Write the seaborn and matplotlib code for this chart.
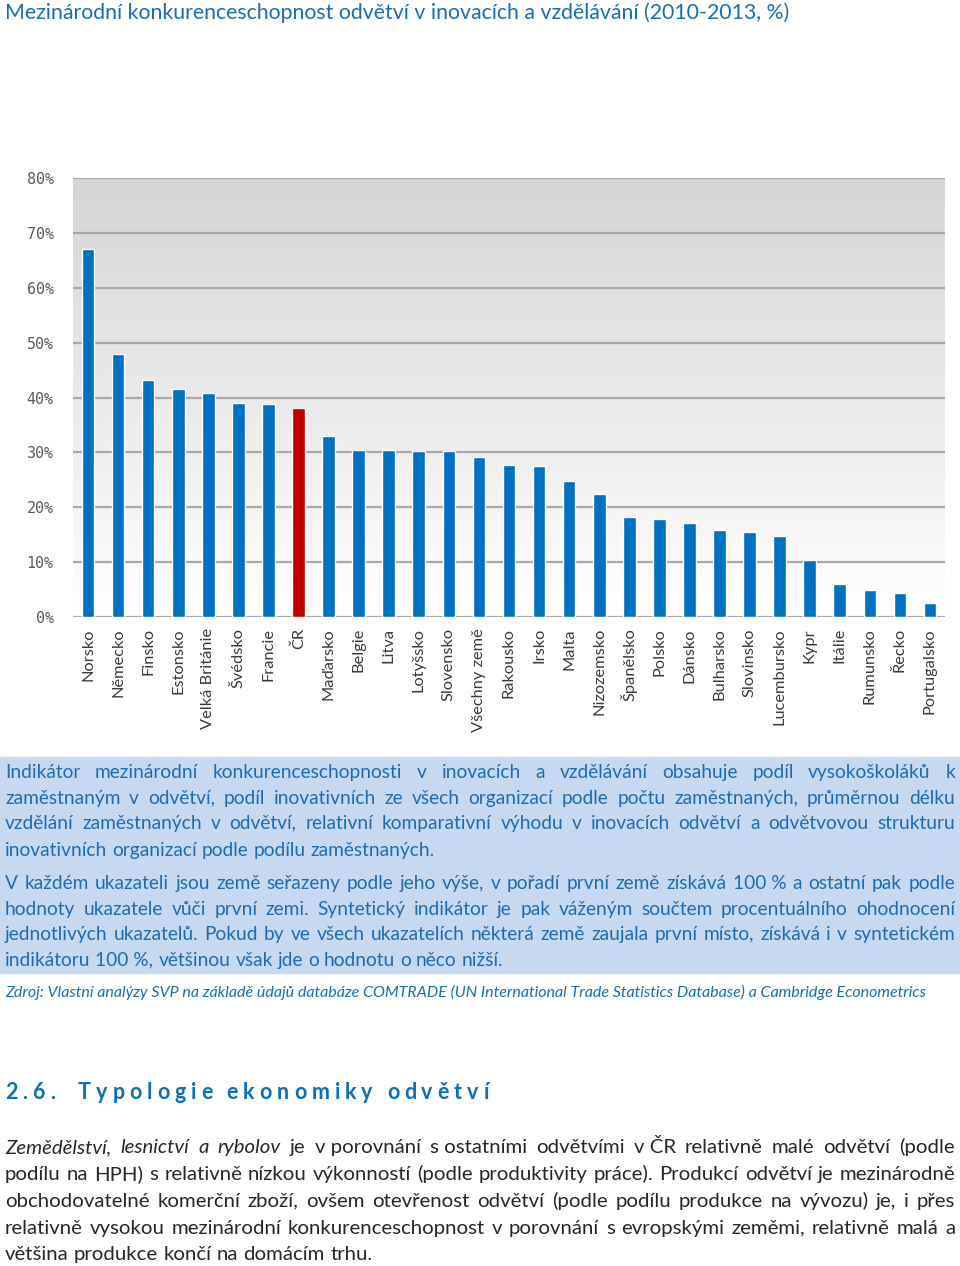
import matplotlib
matplotlib.use('Agg')
import matplotlib.pyplot as plt
import seaborn as sns
import numpy as np
import pandas as pd
from matplotlib.colors import LinearSegmentedColormap
from matplotlib.patches import Rectangle
from matplotlib.ticker import PercentFormatter

# data (%)
zeme = ['Norsko', 'Německo', 'Finsko', 'Estonsko', 'Velká Británie', 'Švédsko',
        'Francie', 'ČR', 'Maďarsko', 'Belgie', 'Litva', 'Lotyšsko', 'Slovensko',
        'Všechny země', 'Rakousko', 'Irsko', 'Malta', 'Nizozemsko', 'Španělsko',
        'Polsko', 'Dánsko', 'Bulharsko', 'Slovinsko', 'Lucembursko', 'Kypr',
        'Itálie', 'Rumunsko', 'Řecko', 'Portugalsko']
hodnoty = [67.0, 48.0, 43.2, 41.6, 40.9, 39.0, 38.9, 38.1, 33.0, 30.4, 30.4,
           30.2, 30.2, 29.1, 27.7, 27.5, 24.8, 22.5, 18.2, 17.8, 17.1, 15.8,
           15.4, 14.7, 10.4, 6.1, 5.0, 4.4, 2.6]
zvyraznit = 'ČR'
y_ticky = [0, 10, 20, 30, 40, 50, 60, 70, 80]

nadpis = 'Mezinárodní konkurenceschopnost odvětví v inovacích a vzdělávání (2010-2013, %)'
box_odstavce = [
    ['Indikátor mezinárodní konkurenceschopnosti v inovacích a vzdělávání obsahuje podíl vysokoškoláků k',
     'zaměstnaným v odvětví, podíl inovativních ze všech organizací podle počtu zaměstnaných, průměrnou délku',
     'vzdělání zaměstnaných v odvětví, relativní komparativní výhodu v inovacích odvětví a odvětvovou strukturu',
     'inovativních organizací podle podílu zaměstnaných.'],
    ['V každém ukazateli jsou země seřazeny podle jeho výše, v pořadí první země získává 100\u00a0% a ostatní pak podle',
     'hodnoty ukazatele vůči první zemi. Syntetický indikátor je pak váženým součtem procentuálního ohodnocení',
     'jednotlivých ukazatelů. Pokud by ve všech ukazatelích některá země zaujala první místo, získává i v syntetickém',
     'indikátoru 100\u00a0%, většinou však jde o hodnotu o něco nižší.'],
]
zdroj = ('Zdroj: Vlastní analýzy SVP na základě údajů databáze COMTRADE '
         '(UN International Trade Statistics Database) a Cambridge Econometrics')
kapitola = '2.6.  Typologie ekonomiky odvětví'
telo = ['Zemědělství, lesnictví a rybolov je v\u00a0porovnání s\u00a0ostatními odvětvími v\u00a0ČR relativně malé odvětví (podle',
        'podílu na HPH) s relativně nízkou výkonností (podle produktivity práce). Produkcí odvětví je mezinárodně',
        'obchodovatelné komerční zboží, ovšem otevřenost odvětví (podle podílu produkce na vývozu) je, i přes',
        'relativně vysokou mezinárodní konkurenceschopnost v porovnání s evropskými zeměmi, relativně malá a',
        'většina produkce končí na domácím trhu.']
telo_kurziva = 4  # prvni 4 slova kurzivou

sns.set_style('white')
plt.rcParams['font.family'] = ['Lato', 'DejaVu Sans']

MODRA = '#0070c0'
CERVENA = '#c00000'
TEXT_MODRA = '#1a6cb5'
W, H = 960, 1266


def fy(py):
    return 1 - py / H


def zarovnej(fig, slova, y, x0, x1, velikost, barva, posledni=False, styly=None):
    # rozmisti slova na radku do bloku (do sirky x0..x1 v px), y = stred radku
    r = fig.canvas.get_renderer()
    zaklad = y + 0.3 * velikost * 100 / 72
    texty = []
    for i, s in enumerate(slova):
        styl = styly[i] if styly else 'normal'
        texty.append(fig.text(0, fy(zaklad), s, fontsize=velikost, color=barva,
                              style=styl, va='baseline', ha='left'))
    sirky = [t.get_window_extent(r).width for t in texty]
    mezera = 0.26 * velikost * 100 / 72
    if posledni or len(texty) == 1:
        gap = mezera
    else:
        gap = max((x1 - x0 - sum(sirky)) / (len(texty) - 1), 2)
    x = x0
    for t, w in zip(texty, sirky):
        t.set_x(x / W)
        x += w + gap


fig = plt.figure(figsize=(9.6, 12.66), dpi=100)

ax = fig.add_axes([73 / W, fy(617), (945 - 73) / W, (617 - 178) / H])
df = pd.DataFrame({'zeme': zeme, 'hodnota': hodnoty})
barvy = {z: (CERVENA if z == zvyraznit else MODRA) for z in zeme}
sns.barplot(data=df, x='zeme', y='hodnota', hue='zeme', palette=barvy,
            legend=False, width=0.42, saturation=1, ax=ax, zorder=3)

# sedy prechod v pozadi
prechod = LinearSegmentedColormap.from_list('prechod', ['#ffffff', '#d5d5d5'])
ax.imshow(np.linspace(1, 0, 200).reshape(-1, 1), cmap=prechod, aspect='auto',
          extent=[-0.5, len(zeme) - 0.5, 0, 80], zorder=0)
ax.set_xlim(-0.5, len(zeme) - 0.5)
ax.set_ylim(0, 80)
ax.set_yticks(y_ticky)
ax.yaxis.set_major_formatter(PercentFormatter(100, decimals=0))
for v in y_ticky:
    ax.axhline(v, color='#a8a8a8', lw=1.6, zorder=1)
for s in ax.spines.values():
    s.set_visible(False)
ax.set_xlabel('')
ax.set_ylabel('')
ax.tick_params(axis='y', length=0, pad=14, labelsize=10.8, labelcolor='#5a5a5a')
ax.tick_params(axis='x', length=0, pad=8, labelsize=11.8, labelcolor='#3a3a3a', labelrotation=90)
for t in ax.get_yticklabels():
    t.set_family('DejaVu Sans Mono')

fig.text(5 / W, fy(13), nadpis, fontsize=15.3, color=TEXT_MODRA, va='center', ha='left')

# modry ramecek s vysvetlenim
fig.patches.append(Rectangle((0, fy(973)), 1, (973 - 757) / H, transform=fig.transFigure,
                             color='#c6d9f1', zorder=0))
radky_y = [[772, 798, 823, 850], [883, 909, 934, 960]]
for odst, ys in zip(box_odstavce, radky_y):
    for i, (radek, y) in enumerate(zip(odst, ys)):
        zarovnej(fig, radek.split(' '), y, 5, 955, 13.8, TEXT_MODRA, posledni=(i == len(odst) - 1))

fig.text(5 / W, fy(992), zdroj, fontsize=11.5, style='italic', color=TEXT_MODRA,
         va='center', ha='left')

# nadpis kapitoly s prostrkanim
r = fig.canvas.get_renderer()
x = 5
for ch in kapitola:
    t = fig.text(x / W, fy(1099), ch, fontsize=15.5, weight='bold', color='#0e6eb8',
                 va='baseline', ha='left')
    w = t.get_window_extent(r).width if ch != ' ' else 4
    x += w + 5.0

for i, radek in enumerate(telo):
    slova = radek.split(' ')
    styly = ['italic' if (i == 0 and k < telo_kurziva) else 'normal' for k in range(len(slova))]
    zarovnej(fig, slova, 1147 + i * 26.8, 5, 955, 14.7, '#262626',
             posledni=(i == len(telo) - 1), styly=styly)

fig.savefig('out.png', dpi=100)
